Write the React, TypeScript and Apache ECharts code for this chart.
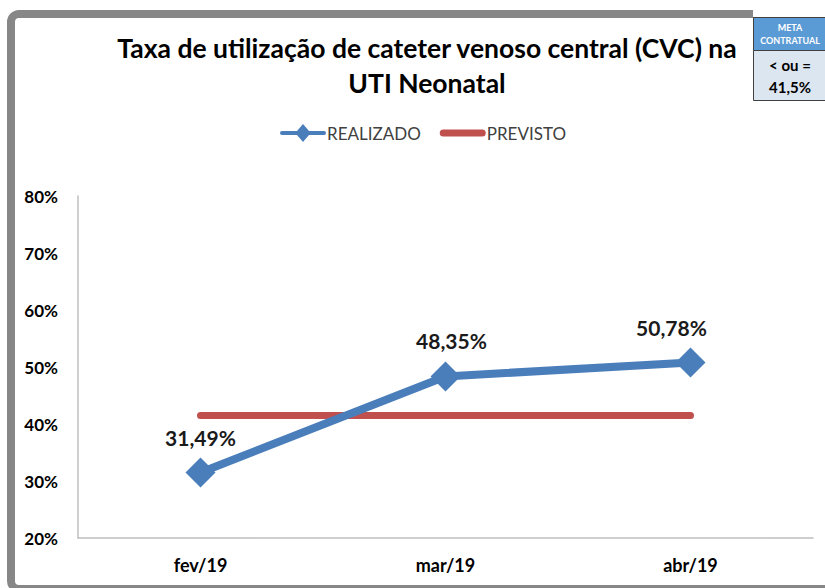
import React, { useEffect, useRef } from "react";
import * as echarts from "echarts";

const categories = ["fev/19", "mar/19", "abr/19"];
const realizado = [31.49, 48.35, 50.78];
const previsto = [41.5, 41.5, 41.5];
const yMin = 20;
const yMax = 80;
const yStep = 10;
const titleText = "Taxa de utilização de cateter venoso central (CVC) na\nUTI Neonatal";
const metaHeader = "META\nCONTRATUAL";
const metaValue = "< ou =\n41,5%";
const labelOffsets = [[0, 0], [6, 0], [-19, 0]];

const FONT = "Lato, 'Noto Sans', sans-serif";

const ICON_REAL =
  "path://M2,7 L17,7 L23,0 L29,7 L44,7 Q46,7 46,9 Q46,11 44,11 L29,11 L23,18 L17,11 L2,11 Q0,11 0,9 Q0,7 2,7 Z";
const ICON_PREV =
  "path://M3.5,0 L42.5,0 Q46,0 46,3.5 Q46,7 42.5,7 L3.5,7 Q0,7 0,3.5 Q0,0 3.5,0 Z";

export default function App() {
  const ref = useRef<HTMLDivElement>(null);
  useEffect(() => {
    if (!ref.current) return;
    const chart = echarts.init(ref.current, null, { renderer: "svg" });
    chart.setOption({
      animation: false,
      backgroundColor: "#ffffff",
      textStyle: { fontFamily: FONT },
      title: {
        text: titleText,
        left: 422,
        textAlign: "center",
        top: 25,
        textStyle: {
          fontFamily: FONT,
          fontSize: 26.5,
          fontWeight: "bold",
          color: "#000000",
          lineHeight: 35,
        },
      },
      legend: {
        top: 119,
        left: 275,
        itemGap: 19,
        textStyle: { fontFamily: FONT, fontSize: 17, color: "#404040", padding: [0, 0, 0, -4] },
        data: [
          { name: "REALIZADO", icon: ICON_REAL, itemWidth: 46, itemHeight: 18 },
          { name: "PREVISTO", icon: ICON_PREV, itemWidth: 46, itemHeight: 7 },
        ],
        itemWidth: 46,
        itemHeight: 18,
      },
      grid: { left: 78, top: 196, right: 12, bottom: 50, containLabel: false },
      xAxis: {
        type: "category",
        data: categories,
        boundaryGap: true,
        axisLine: { show: true, lineStyle: { color: "#bfbfbf", width: 1.5 } },
        axisTick: { show: false },
        axisLabel: {
          fontFamily: FONT,
          fontSize: 18,
          fontWeight: "bold",
          color: "#000000",
          margin: 18,
        },
        splitLine: { show: false },
      },
      yAxis: {
        type: "value",
        min: yMin,
        max: yMax,
        interval: yStep,
        axisLine: { show: true, lineStyle: { color: "#bfbfbf", width: 1.5 } },
        axisTick: { show: false },
        splitLine: { show: false },
        axisLabel: {
          fontFamily: FONT,
          fontSize: 17,
          fontWeight: "bold",
          color: "#000000",
          margin: 20,
          formatter: "{value}%",
        },
      },
      series: [
        {
          name: "REALIZADO",
          type: "line",
          data: realizado.map((v, i) => ({
            value: v,
            label: { offset: labelOffsets[i] },
          })),
          symbol: "diamond",
          symbolSize: 30,
          itemStyle: { color: "#4a7ebb" },
          lineStyle: { color: "#4a7ebb", width: 8, cap: "round", join: "round" },
          label: {
            show: true,
            position: "top",
            distance: 10,
            fontFamily: FONT,
            fontSize: 21,
            fontWeight: "bold",
            color: "#1a1a1a",
            formatter: (p: any) => p.value.toFixed(2).replace(".", ",") + "%",
          },
          z: 3,
        },
        {
          name: "PREVISTO",
          type: "line",
          data: previsto,
          symbol: "none",
          itemStyle: { color: "#c0504d" },
          lineStyle: { color: "#c0504d", width: 7, cap: "round" },
          z: 2,
        },
      ],
      graphic: [
        {
          type: "rect",
          shape: { x: 11, y: 14, width: 900, height: 575, r: 8 },
          style: { fill: "none", stroke: "#878787", lineWidth: 8 },
          z: 10,
        },
        {
          type: "rect",
          shape: { x: 753, y: 0, width: 80, height: 17 },
          style: { fill: "#ffffff" },
          z: 11,
        },
        {
          type: "rect",
          shape: { x: 753.5, y: 17.5, width: 80, height: 33 },
          style: { fill: "#5b9bd5", stroke: "#404040", lineWidth: 1 },
          z: 12,
        },
        {
          type: "rect",
          shape: { x: 753.5, y: 50.5, width: 80, height: 50 },
          style: { fill: "#dce6f1", stroke: "#404040", lineWidth: 1 },
          z: 12,
        },
        {
          type: "text",
          x: 790,
          y: 34,
          style: {
            text: metaHeader,
            fill: "#ffffff",
            font: "bold 9px " + FONT,
            lineHeight: 13,
            align: "center",
            verticalAlign: "middle",
          },
          z: 13,
        },
        {
          type: "text",
          x: 790,
          y: 76,
          style: {
            text: metaValue,
            fill: "#000000",
            font: "bold 15px " + FONT,
            lineHeight: 22,
            align: "center",
            verticalAlign: "middle",
          },
          z: 13,
        },
      ],
    });
    return () => chart.dispose();
  }, []);
  return (
    <div
      ref={ref}
      style={{ position: "fixed", left: 0, top: 0, width: 825, height: 588 }}
    />
  );
}
